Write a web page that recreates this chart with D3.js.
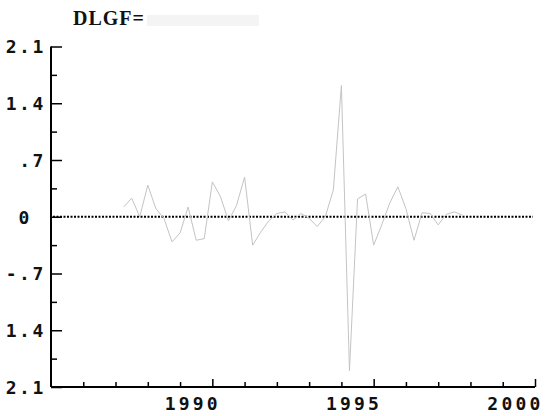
<!DOCTYPE html>
<html lang="en">
<head>
  <meta charset="utf-8">
  <title>DLGF</title>
  <script src="https://d3js.org/d3.v7.min.js"></script>
  <style>
    body { margin: 0; background: #fff; }
    .lab { font-family: "DejaVu Sans Mono", monospace; font-weight: bold; font-size: 18px; fill: #111; }
  </style>
</head>
<body>
  <div id="chart"></div>
  <script>
    // quarterly series, first point 1987 Q2
    var firstQuarter = 1987.25;
    var dlgf = [0.12, 0.23, 0.0, 0.39, 0.1, -0.02, -0.31, -0.2, 0.12, -0.29,
                -0.27, 0.43, 0.25, -0.05, 0.14, 0.49, -0.35, -0.19, -0.05, 0.04,
                0.06, -0.04, 0.04, -0.02, -0.12, 0.0, 0.33, 1.62, -1.9, 0.22,
                0.28, -0.35, -0.1, 0.17, 0.37, 0.1, -0.29, 0.05, 0.04, -0.1,
                0.03, 0.06, 0.02];

    var yMajor = [2.1, 1.4, 0.7, 0, -0.7, -1.4, -2.1];
    var yMajorLabels = ["2.1", "1.4", ".7", "0", "-.7", "1.4", "2.1"];
    var yMinor = [1.75, 1.05, 0.35, -0.35, -1.05, -1.75];
    var xYears = [1986, 1987, 1988, 1989, 1990, 1991, 1992, 1993, 1994, 1995, 1996, 1997, 1998, 1999, 2000];
    var xLabelled = [1990, 1995, 2000];

    var width = 555, height = 416;
    var svg = d3.select("#chart").append("svg")
      .attr("width", width)
      .attr("height", height);

    var x = d3.scaleLinear().domain([1985, 2000]).range([51, 535]);
    var y = d3.scaleLinear().domain([-2.1, 2.1]).range([387, 46.5]);

    // title (the value after "=" is faded out in the original)
    svg.append("rect")
      .attr("x", 147).attr("y", 15).attr("width", 112).attr("height", 11)
      .attr("fill", "#f4f4f4");
    svg.append("text")
      .attr("x", 73).attr("y", 25)
      .attr("font-family", "Liberation Serif, serif")
      .attr("font-weight", "bold")
      .attr("font-size", 20)
      .attr("letter-spacing", 1)
      .attr("fill", "#111")
      .text("DLGF=");

    // zero reference line
    svg.append("line")
      .attr("x1", x(1985) + 2).attr("x2", 533)
      .attr("y1", y(0)).attr("y2", y(0))
      .attr("stroke", "#000")
      .attr("stroke-width", 2)
      .attr("stroke-dasharray", "2,1.5");

    // data line
    var line = d3.line()
      .x(function (d, i) { return x(firstQuarter + i / 4); })
      .y(function (d) { return y(d); });
    svg.append("path")
      .datum(dlgf)
      .attr("d", line)
      .attr("fill", "none")
      .attr("stroke", "#c4c4c4")
      .attr("stroke-width", 1);

    // y axis: ticks point inward
    var yAxis = svg.append("g")
      .attr("transform", "translate(" + x(1985) + ",0)")
      .call(d3.axisLeft(y)
        .tickValues(yMajor)
        .tickSize(-11)
        .tickPadding(6)
        .tickFormat(function (d, i) { return yMajorLabels[i]; }));
    yAxis.select(".domain").attr("stroke-width", 2).attr("d", "M0," + y(2.1) + "V" + y(-2.1));
    yAxis.selectAll(".tick line").attr("stroke-width", 1.5);
    yAxis.selectAll("text")
      .attr("class", "lab")
      .attr("letter-spacing", 2.6)
      .attr("x", function (d) { return d === 0 ? -19 : -5; })
      .attr("dy", "0.36em");

    var yAxisMinor = svg.append("g")
      .attr("transform", "translate(" + x(1985) + ",0)")
      .call(d3.axisLeft(y).tickValues(yMinor).tickSize(-6).tickFormat(""));
    yAxisMinor.select(".domain").remove();
    yAxisMinor.selectAll(".tick line").attr("stroke-width", 1.5);

    // x axis: ticks point up
    var xAxis = svg.append("g")
      .attr("transform", "translate(0," + y(-2.1) + ")")
      .call(d3.axisBottom(x)
        .tickValues(xYears)
        .tickSize(-5)
        .tickFormat(function (d) { return xLabelled.indexOf(d) >= 0 ? d : ""; }));
    xAxis.select(".domain").attr("stroke-width", 2).attr("d", "M" + x(1985) + ",0H" + x(2000));
    xAxis.selectAll(".tick line")
      .attr("stroke-width", 1.5)
      .attr("y2", function (d) { return xLabelled.indexOf(d) >= 0 ? -8 : -5; });
    xAxis.selectAll("text")
      .attr("class", "lab")
      .attr("letter-spacing", 3.2)
      .attr("text-anchor", "end")
      .attr("x", 8)
      .attr("y", 23)
      .attr("dy", 0);
  </script>
</body>
</html>
